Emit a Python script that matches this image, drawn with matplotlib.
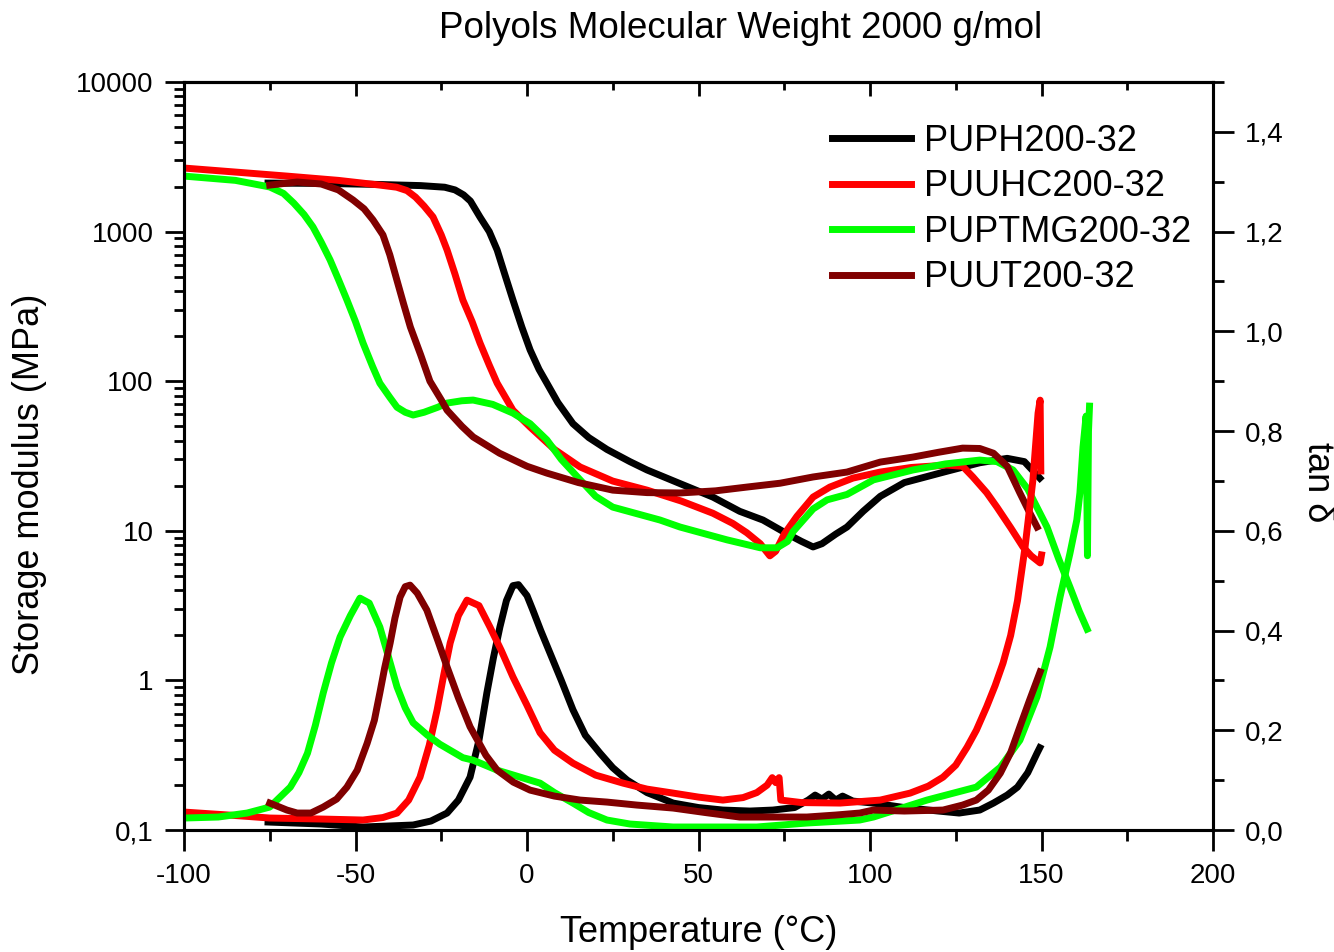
import matplotlib
matplotlib.use("Agg")
import matplotlib.pyplot as plt
from matplotlib.ticker import FixedLocator, FuncFormatter, MultipleLocator, LogLocator, NullFormatter

plt.rcParams['font.family'] = ['Liberation Sans', 'DejaVu Sans']
plt.rcParams['axes.unicode_minus'] = False

# ========= DATA =========
names = ["PUPH200-32", "PUUHC200-32", "PUPTMG200-32", "PUUT200-32"]
colors = ["#000000", "#ff0000", "#00ff00", "#800000"]

# storage modulus E' (MPa)
puph_T = [-75.5, -60, -45, -31, -24, -21, -18.5, -16.5, -13.7, -11, -8.7, -6.5, -4.1, -1.5, 0.9, 3.5, 5.8, 9, 13.4,
          18, 23.3, 30, 35, 45, 54.2, 62, 68.8, 76, 80, 83.4, 86, 90, 93.3, 98, 103, 110, 122.4, 132, 140, 145, 149.5]
puph_E = [2110, 2100, 2070, 2030, 1980, 1900, 1760, 1600, 1250, 1000, 753, 520, 349, 230, 162, 120, 97, 72, 52,
          42, 35, 29, 25.5, 20.5, 16.8, 13.5, 11.8, 9.5, 8.5, 7.8, 8.2, 9.5, 10.6, 13.5, 17, 21, 25, 28.5, 30.5, 29, 22.5]

puuhc_T = [-100, -85, -70, -55, -42.9, -38, -35, -32.5, -30, -27.4, -25, -23.3, -21, -18.7, -16, -13.7, -11, -8.7, -4.1,
           0.9, 8, 15.5, 25, 35, 45, 54.2, 60, 64.1, 68, 70.8, 72.5, 75, 78.7, 83.4, 88.3, 95, 103, 112, 122.4,
           127, 130, 134, 137, 141, 144.6, 147, 149.6, 150]
puuhc_E = [2660, 2500, 2350, 2200, 2046, 1980, 1880, 1700, 1480, 1253, 950, 753, 520, 349, 250, 180, 128, 97, 64,
           49.4, 35, 26.7, 21.5, 18.7, 15.8, 13.1, 11.2, 9.7, 8.2, 6.8, 7.3, 9.5, 12.5, 16.8, 19.6, 22.5, 24.7, 26.5, 27.5,
           27, 22.9, 18, 14.4, 10.5, 7.8, 6.8, 6.1, 6.9]

puptmg_T = [-100, -85, -75, -71, -68, -65, -62.4, -60, -57.4, -55, -52.5, -50, -47.8, -45, -42.9, -40, -37.9, -35.5, -33.2,
            -30, -26, -23.3, -19, -15.7, -10, -4.1, 0.9, 5.8, 10, 15.5, 20, 25, 38.8, 44.6, 58.3, 68, 72.9, 76, 77.6,
            83.4, 87.5, 93.3, 101, 112.5, 122, 132, 137, 141.7, 146, 151.6, 155, 158.3, 161, 163.3]
puptmg_E = [2350, 2200, 1987, 1800, 1550, 1300, 1074, 850, 646, 480, 349, 250, 180, 125, 97, 78, 67, 62, 59.4,
            62, 67, 71.4, 74, 74.8, 70, 61.2, 52, 40.5, 30, 21.9, 17, 14.4, 11.8, 10.6, 8.7, 7.7, 7.7, 8.5, 9.9,
            14, 16.1, 17.5, 21.9, 25.5, 28, 29.7, 29, 25.5, 19, 10.6, 6.5, 4.2, 2.9, 2.2]

puut_T = [-75, -67, -60, -55, -50.7, -47.5, -44.9, -42, -40, -38, -36, -34, -31, -28.3, -25, -23.3, -19, -15.7, -8, 0, 5.8,
          15, 25, 35, 44.6, 55, 64.1, 73.8, 83.4, 93.3, 103, 112.5, 120, 127, 132, 136, 140, 143.7, 146, 148.7]
puut_E = [2046, 2146, 2080, 1900, 1626, 1420, 1197, 950, 700, 480, 330, 230, 150, 100, 75, 64, 50, 42.4, 33, 27, 24.3,
          21, 18.7, 18, 17.9, 18.5, 19.6, 20.8, 22.9, 24.7, 28.8, 31.1, 33.5, 35.7, 35.5, 33, 27, 17.9, 14, 10.6]

# tan delta
puph_tT = [-75.5, -60, -47.8, -33.2, -28, -23.3, -20, -16.6, -14, -11.7, -9.8, -7.9, -6, -4.1, -2.5, 0, 1.7, 4,
           6.7, 10, 13.4, 17, 21.3, 25, 29.2, 35, 42.6, 50, 57.1, 65, 71.7, 78, 82, 84, 86, 88, 90, 92, 95,
           100.9, 110, 120, 126, 132, 136, 140, 143, 146, 148.7, 149.5]
puph_tan = [0.016, 0.012, 0.006, 0.01, 0.018, 0.034, 0.06, 0.106, 0.18, 0.275, 0.345, 0.407, 0.46, 0.49, 0.492, 0.47, 0.441, 0.40,
            0.355, 0.30, 0.241, 0.19, 0.154, 0.125, 0.10, 0.075, 0.054, 0.045, 0.04, 0.038, 0.04, 0.045, 0.06, 0.07, 0.062, 0.072, 0.06, 0.068, 0.058,
            0.054, 0.045, 0.038, 0.034, 0.04, 0.054, 0.07, 0.086, 0.115, 0.154, 0.165]

puuhc_tT = [-100, -87, -75, -60, -47.8, -42, -37.9, -34.5, -31.2, -28.5, -26.2, -24.3, -22.4, -20, -17.5, -14, -10.8,
            -7.5, -4.1, 0, 3.8, 8, 13.4, 20, 28, 35, 42.6, 50, 57.1, 63, 67, 70, 71.5, 72.5, 73.5, 74, 80, 91.3,
            103, 111.7, 117, 121.3, 125, 128.3, 131, 134, 136.5, 138.8, 141, 143, 145.2, 147.5, 149, 149.6, 149.8]
puuhc_tan = [0.036, 0.03, 0.024, 0.022, 0.02, 0.025, 0.034, 0.06, 0.106, 0.17, 0.241, 0.31, 0.375, 0.43, 0.461, 0.45, 0.407,
             0.36, 0.307, 0.25, 0.195, 0.16, 0.134, 0.11, 0.094, 0.082, 0.074, 0.066, 0.06, 0.065, 0.075, 0.09, 0.105, 0.095, 0.105, 0.06, 0.055, 0.054,
             0.06, 0.074, 0.088, 0.106, 0.13, 0.166, 0.2, 0.247, 0.29, 0.335, 0.39, 0.46, 0.567, 0.702, 0.836, 0.862, 0.72]

puptmg_tT = [-100, -90, -81.6, -75, -69, -66.5, -64, -61.7, -59.4, -57, -54.5, -51.5, -48.7, -46, -42.9, -40.5, -37.9,
             -35.5, -33.2, -29, -25.4, -18.7, -15.7, -8.7, 0.9, 3.8, 8, 13.4, 18, 23.3, 30, 42.6, 55, 67, 81.6, 97,
             101, 116.6, 131, 138, 143.7, 148.7, 152.5, 155.4, 158.3, 160.3, 161.2, 162.1, 163.0, 163.4, 163.7, 164.0]
puptmg_tan = [0.024, 0.026, 0.034, 0.046, 0.086, 0.115, 0.154, 0.21, 0.275, 0.335, 0.387, 0.43, 0.465, 0.455, 0.407, 0.35, 0.287,
              0.245, 0.215, 0.19, 0.172, 0.145, 0.14, 0.12, 0.1, 0.094, 0.075, 0.054, 0.035, 0.02, 0.012, 0.006, 0.006, 0.006, 0.014, 0.02,
              0.026, 0.06, 0.086, 0.126, 0.18, 0.267, 0.367, 0.467, 0.555, 0.622, 0.676, 0.768, 0.83, 0.55, 0.80, 0.85]

puut_tT = [-75, -70, -67, -63, -59.4, -55.5, -52.5, -49.5, -46.6, -44.5, -42.9, -41.5, -39.9, -38.5, -37, -35.5, -34.1,
           -32, -29.2, -26, -23.3, -20, -16.6, -12, -8.7, -4, 0.9, 8, 15.5, 23.3, 32, 42.6, 52, 62, 72, 81.6, 90, 97,
           101, 110, 121.3, 127, 131, 134.5, 138, 141, 143.7, 146.5, 149.6]
puut_tan = [0.054, 0.04, 0.034, 0.034, 0.046, 0.062, 0.086, 0.12, 0.174, 0.22, 0.275, 0.325, 0.375, 0.425, 0.467, 0.488, 0.491,
            0.475, 0.441, 0.38, 0.327, 0.265, 0.207, 0.15, 0.12, 0.096, 0.08, 0.068, 0.06, 0.056, 0.05, 0.044, 0.035, 0.026, 0.026, 0.026, 0.03, 0.034,
            0.04, 0.038, 0.04, 0.05, 0.06, 0.08, 0.114, 0.155, 0.207, 0.26, 0.317]

modulus = [(puph_T, puph_E), (puuhc_T, puuhc_E), (puptmg_T, puptmg_E), (puut_T, puut_E)]
tandelta = [(puph_tT, puph_tan), (puuhc_tT, puuhc_tan), (puptmg_tT, puptmg_tan), (puut_tT, puut_tan)]

# ========= PLOT =========
W, H = 1334, 952
fig = plt.figure(figsize=(W / 100, H / 100), dpi=100)
ax = fig.add_axes([184 / W, 1 - 830 / H, (1213 - 184) / W, (830 - 82) / H])
ax2 = ax.twinx()

LW = 5.0
lines = []
for (t, e), name, c in zip(modulus, names, colors):
    ln, = ax.plot(t, e, color=c, lw=LW, label=name, solid_joinstyle='round')
    lines.append(ln)
for (t, d), c in zip(tandelta, colors):
    ax2.plot(t, d, color=c, lw=LW, solid_joinstyle='round')

ax.set_xlim(-100, 200)
ax.set_yscale('log')
ax.set_ylim(0.1, 10000)
ax2.set_ylim(0, 1.5)

# x ticks
ax.xaxis.set_major_locator(MultipleLocator(50))
ax.xaxis.set_minor_locator(MultipleLocator(25))
ax.tick_params(axis='x', which='major', direction='out', length=15, width=2, labelsize=20, pad=9)
ax.tick_params(axis='x', which='minor', direction='out', length=8, width=2)
top = ax.secondary_xaxis('top')
top.xaxis.set_major_locator(MultipleLocator(50))
top.xaxis.set_minor_locator(MultipleLocator(25))
top.tick_params(axis='x', which='major', direction='in', length=10, width=2, labeltop=False)
top.tick_params(axis='x', which='minor', direction='in', length=6, width=2)
top.spines['top'].set_linewidth(2.2)

# left log axis
lab = {0.1: "0,1", 1: "1", 10: "10", 100: "100", 1000: "1000", 10000: "10000"}
ax.yaxis.set_major_locator(FixedLocator(list(lab.keys())))
ax.yaxis.set_major_formatter(FuncFormatter(lambda v, p: lab.get(round(v, 1), "")))
ax.yaxis.set_minor_locator(LogLocator(base=10, subs=range(2, 10), numticks=20))
ax.yaxis.set_minor_formatter(NullFormatter())
ax.tick_params(axis='y', which='major', direction='out', length=14, width=2, labelsize=20, pad=8)
ax.tick_params(axis='y', which='minor', direction='out', length=7, width=2)

# right tan delta axis
ax2.yaxis.set_major_locator(MultipleLocator(0.2))
ax2.yaxis.set_minor_locator(MultipleLocator(0.1))
ax2.yaxis.set_major_formatter(FuncFormatter(lambda v, p: f"{v:.1f}".replace(".", ",")))
ax2.tick_params(axis='y', which='major', direction='out', length=15, width=2, labelsize=20, pad=8)
ax2.tick_params(axis='y', which='minor', direction='out', length=8, width=2)

for a in (ax, ax2):
    for sp in a.spines.values():
        sp.set_linewidth(2.2)

fig.text(741 / W, 1 - 28 / H, "Polyols Molecular Weight 2000 g/mol", fontsize=26.5, ha='center', va='center')
fig.text(699 / W, 1 - 933 / H, "Temperature (°C)", fontsize=26, ha='center', va='center')
fig.text(30 / W, 1 - 484 / H, "Storage modulus (MPa)", fontsize=26, ha='center', va='center', rotation=90)
fig.text(1318 / W, 1 - 482 / H, "tan δ", fontsize=26, ha='center', va='center', rotation=270)

ax2.legend(handles=lines, loc='upper left', bbox_to_anchor=(832 / W, 1 - 124 / H),
           bbox_transform=fig.transFigure, frameon=False, fontsize=26, handlelength=2.2,
           handletextpad=0.35, labelspacing=0.29, borderpad=0, borderaxespad=0)

fig.savefig("out.png", dpi=100)
